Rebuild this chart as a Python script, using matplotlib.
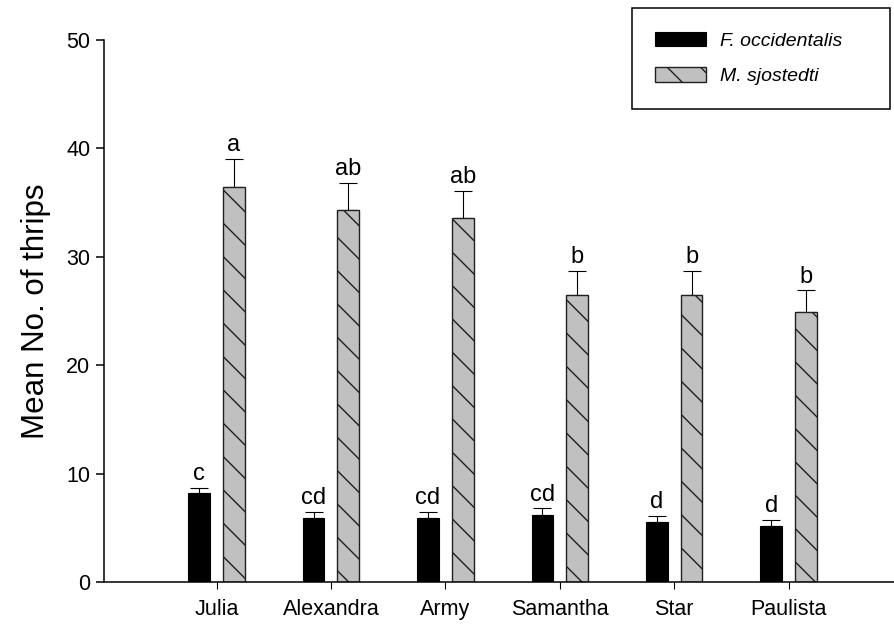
import numpy as np
import matplotlib
matplotlib.use('Agg')
import matplotlib.pyplot as plt

plt.rcParams['font.family'] = ['Liberation Sans', 'DejaVu Sans']
plt.rcParams['hatch.linewidth'] = 1.0
plt.rcParams['hatch.color'] = 'black'

# data
cultivars = ['Julia', 'Alexandra', 'Army', 'Samantha', 'Star', 'Paulista']
fo_mean = [8.2, 5.9, 5.9, 6.2, 5.5, 5.2]
fo_se = [0.5, 0.55, 0.6, 0.6, 0.6, 0.55]
ms_mean = [36.4, 34.35, 33.6, 26.45, 26.45, 24.9]
ms_se = [2.6, 2.45, 2.5, 2.25, 2.25, 2.0]
fo_letters = ['c', 'cd', 'cd', 'cd', 'd', 'd']
ms_letters = ['a', 'ab', 'ab', 'b', 'b', 'b']

fig = plt.figure(figsize=(8.95, 6.34), dpi=100)
ax = fig.add_axes([0.116, 0.082, 0.884, 0.855])

x = np.arange(len(cultivars))
w = 0.19
off = 0.152

b1 = ax.bar(x - off, fo_mean, w, color='black', edgecolor='black', linewidth=0.8,
            label='F. occidentalis', zorder=2)
b2 = ax.bar(x + off, ms_mean, w, color='#c0c0c0', edgecolor='#202020', linewidth=1.0,
            hatch='\\', label='M. sjostedti', zorder=2)

ax.errorbar(x - off, fo_mean, yerr=[np.zeros(6), fo_se], fmt='none', ecolor='black',
            elinewidth=0.8, capsize=6.4, capthick=0.8, zorder=1)
ax.errorbar(x + off, ms_mean, yerr=[np.zeros(6), ms_se], fmt='none', ecolor='black',
            elinewidth=0.8, capsize=6.4, capthick=0.8, zorder=1)

# significance letters above the error bars
for i in range(len(cultivars)):
    ax.annotate(fo_letters[i], (x[i] - off, fo_mean[i] + fo_se[i]), xytext=(0, 2),
                textcoords='offset points', ha='center', va='bottom', fontsize=17)
    ax.annotate(ms_letters[i], (x[i] + off, ms_mean[i] + ms_se[i]), xytext=(0, 2),
                textcoords='offset points', ha='center', va='bottom', fontsize=17)

ax.set_xlim(-0.985, 5.93)
ax.set_ylim(0, 50)
ax.set_yticks([0, 10, 20, 30, 40, 50])
ax.set_xticks(x)
ax.set_xticklabels(cultivars)
ax.set_ylabel('Mean No. of thrips', fontsize=22.5, labelpad=11)

for s in ['top', 'right']:
    ax.spines[s].set_visible(False)
for s in ['left', 'bottom']:
    ax.spines[s].set_linewidth(1.1)
ax.tick_params(axis='y', direction='out', length=5.8, width=1.1, labelsize=15.5, pad=4)
ax.tick_params(axis='x', direction='out', length=5, width=0.8, labelsize=15.5, pad=7)

leg = ax.legend(handles=[b1, b2], bbox_to_anchor=(0.706, 0.83, 0.288, 0.157),
                bbox_transform=fig.transFigure, loc='upper left', mode='expand',
                fancybox=False, edgecolor='black', framealpha=1,
                prop={'style': 'italic', 'size': 14}, handlelength=2.6, handleheight=0.8,
                labelspacing=0.9, borderpad=1.2, borderaxespad=0, handletextpad=0.75)
leg.get_frame().set_linewidth(1.1)

fig.savefig('out.png', dpi=100)
